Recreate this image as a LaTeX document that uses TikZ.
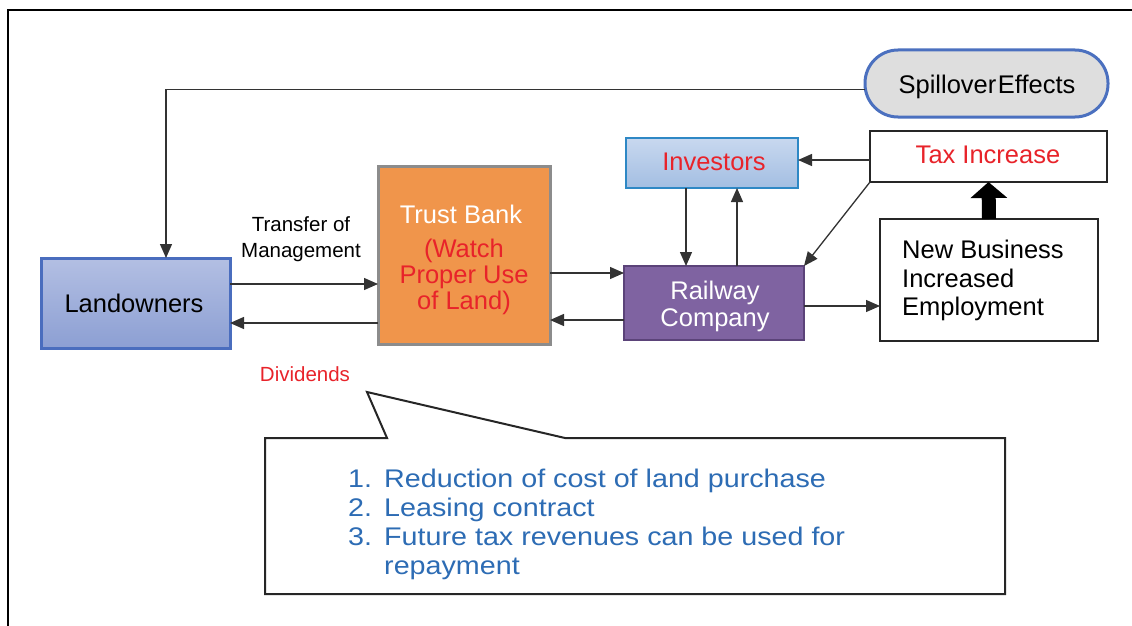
\documentclass[tikz,border=0pt]{standalone}
\usepackage{fontspec}
\setmainfont{Liberation Sans}
\usetikzlibrary{arrows.meta}
\definecolor{landtop}{HTML}{B3BFE3}
\definecolor{landbot}{HTML}{8C9FD3}
\definecolor{landborder}{HTML}{4A6DBE}
\definecolor{trustfill}{HTML}{F0954B}
\definecolor{trustborder}{HTML}{8C8C8C}
\definecolor{railfill}{HTML}{7F63A1}
\definecolor{railborder}{HTML}{5B4379}
\definecolor{invtop}{HTML}{C8D8EF}
\definecolor{invbot}{HTML}{A3BEE2}
\definecolor{invborder}{HTML}{2E88C5}
\definecolor{spillfill}{HTML}{DEDEDE}
\definecolor{spillborder}{HTML}{4B70BF}
\definecolor{redtxt}{HTML}{E8232A}
\definecolor{bluetxt}{HTML}{2D6CB4}
\newcommand{\wide}[1]{\scalebox{1.125}[1]{#1}}
\tikzset{
  box/.style={rectangle, inner sep=0pt, outer sep=0pt},
  big/.style={font=\fontsize{25.5}{27}\selectfont, inner sep=0pt, anchor=base},
  small/.style={font=\fontsize{20.5}{22}\selectfont, inner sep=0pt, anchor=base},
  calltxt/.style={font=\fontsize{25.5}{29}\selectfont, text=bluetxt, inner sep=0pt, anchor=base west},
  arr/.style={draw=black!80, line width=1.3pt, -{Triangle[length=14pt,width=12pt]}},
}
\begin{document}
\begin{tikzpicture}[x=1pt,y=-1pt]
\useasboundingbox (0,0) rectangle (1132,626);
% frame
\draw[line width=1.5pt] (8,626) -- (8,10) -- (1132,10);

% boxes
\node[box, draw=landborder, line width=3pt, top color=landtop, bottom color=landbot,
  minimum width=189pt, minimum height=90pt] (land) at (135.5,303) {};
\node[box, draw=trustborder, line width=3pt, fill=trustfill,
  minimum width=172pt, minimum height=178pt] (trust) at (464,255) {};
\node[box, draw=railborder, line width=2.5pt, fill=railfill,
  minimum width=180pt, minimum height=74pt] (rail) at (714,303) {};
\node[box, draw=invborder, line width=2.5pt, top color=invtop, bottom color=invbot,
  minimum width=172pt, minimum height=50pt] (inv) at (712,163) {};
\node[box, draw=black!85, line width=2pt, fill=white,
  minimum width=237pt, minimum height=51pt] (tax) at (988.5,156.5) {};
\node[box, draw=black!85, line width=2pt, fill=white,
  minimum width=218pt, minimum height=122pt] (nb) at (989,280) {};
\node[box, draw=spillborder, line width=3pt, fill=spillfill, rounded corners=33pt,
  minimum width=243pt, minimum height=67pt] (spill) at (986.5,83.5) {};

% texts
\node[big] (tland) at (134,312) {Landowners};
\node[big, text=white] (ttrust) at (461,223) {Trust Bank};
\node[big, text=redtxt] (tw1) at (464,257) {(Watch};
\node[big, text=redtxt] (tw2) at (464,283) {Proper Use};
\node[big, text=redtxt] (tw3) at (464,309) {of Land)};
\node[big, text=white] (tr1) at (715,299) {Railway};
\node[big, text=white] (tr2) at (715,326) {Company};
\node[big, text=redtxt] (tinv) at (714,170) {Investors};
\node[big, text=redtxt] (ttax) at (988,163) {Tax Increase};
\node[big, anchor=base west] (tn1) at (902,258) {New Business};
\node[big, anchor=base west] (tn2) at (902,287) {Increased};
\node[big, anchor=base west] (tn3) at (902,315) {Employment};
\node[big] (tspill) at (987,93) {Spillover\hspace{0.06em}Effects};
\node[small] (ttr1) at (301,231) {Transfer of};
\node[small] (ttr2) at (301,257) {Management};
\node[small, text=redtxt] (tdiv) at (305,381) {Dividends};

% connectors
\draw[arr] ([yshift=-6pt]spill.west) -| ([xshift=30.5pt]land.north);
\draw[arr] ([yshift=19pt]land.east) -- ([yshift=-29pt]trust.west);
\draw[arr] ([yshift=-68pt]trust.west) -- ([yshift=-20pt]land.east);
\draw[arr] ([yshift=-18pt]trust.east) -- ([yshift=30pt]rail.west);
\draw[arr] ([yshift=-17pt]rail.west) -- ([yshift=-65pt]trust.east);
\draw[arr] ([xshift=-26pt]inv.south) -- ([xshift=-28pt]rail.north);
\draw[arr] ([xshift=23pt]rail.north) -- ([xshift=25pt]inv.south);
\draw[arr] ([yshift=-3.5pt]tax.west) -- ([yshift=3pt]inv.east);
\draw[arr] (tax.south west) -- (rail.north east);
\draw[arr] ([yshift=-3pt]rail.east) -- ([yshift=-26pt]nb.west);
\draw[line width=14pt, -{Triangle[length=16pt,width=36pt]}] (nb.north) -- (tax.south);

% callout
\draw[line width=2pt, draw=black!85, fill=white] (265,438) -- (387,438) -- (367,392) -- (565,438)
  -- (1005,438) -- (1005,594) -- (265,594) -- cycle;
\node[calltxt] (c1n) at (348,487) {\wide{1.}};
\node[calltxt] (c1) at (384,487) {\wide{Reduction of cost of land purchase}};
\node[calltxt] (c2n) at (348,516) {\wide{2.}};
\node[calltxt] (c2) at (384,516) {\wide{Leasing contract}};
\node[calltxt] (c3n) at (348,545) {\wide{3.}};
\node[calltxt] (c3) at (384,545) {\wide{Future tax revenues can be used for}};
\node[calltxt] (c4) at (384,574) {\wide{repayment}};
\end{tikzpicture}
\end{document}
